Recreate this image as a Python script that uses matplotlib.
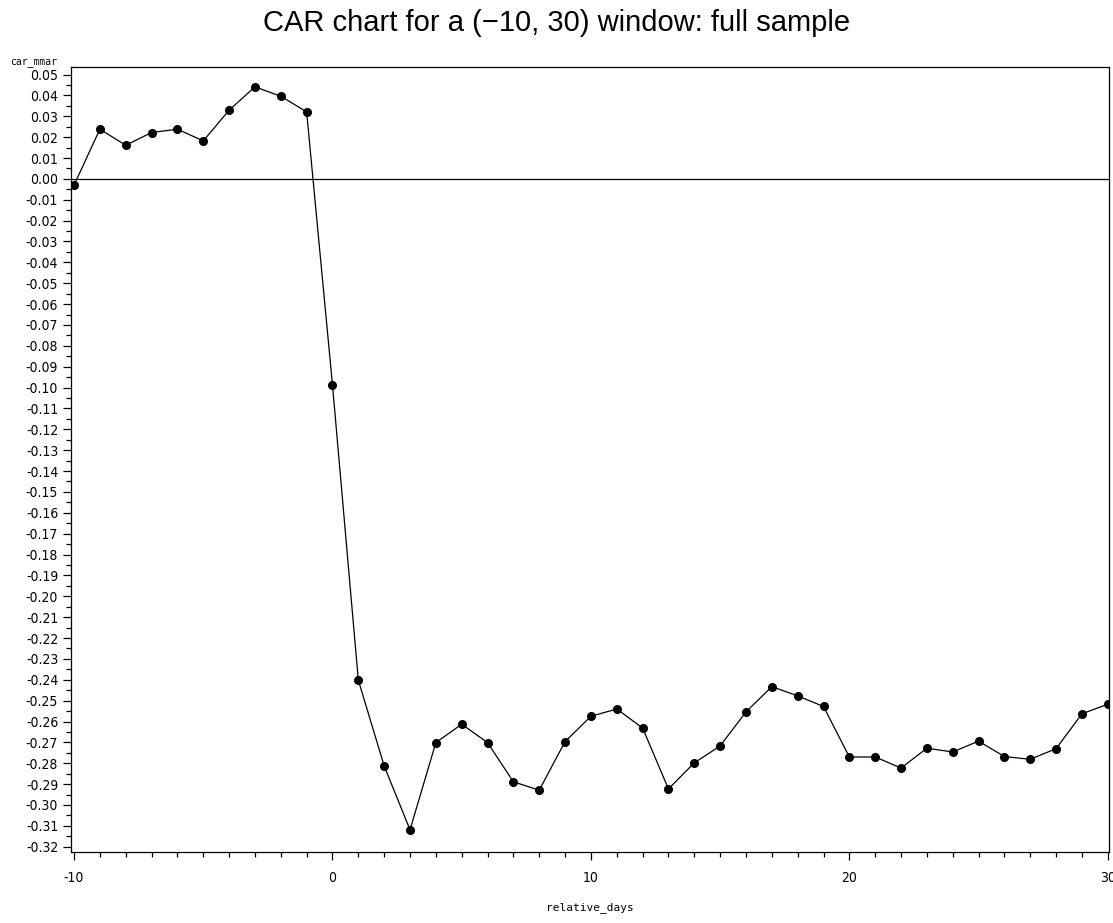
import matplotlib
matplotlib.use("Agg")
import matplotlib.pyplot as plt
import matplotlib.ticker as mtick

# CAR by relative day
relative_days = list(range(-10, 31))
car_mmar = [
    -0.0030, 0.0238, 0.0161, 0.0222, 0.0238, 0.0182, 0.0329, 0.0441, 0.0396, 0.0321,
    -0.0987, -0.2402, -0.2813, -0.3119, -0.2701, -0.2613, -0.2701, -0.2889, -0.2929, -0.2696,
    -0.2575, -0.2540, -0.2631, -0.2923, -0.2798, -0.2717, -0.2554, -0.2433, -0.2477, -0.2528,
    -0.2770, -0.2770, -0.2823, -0.2728, -0.2746, -0.2694, -0.2768, -0.2781, -0.2730, -0.2563,
    -0.2517,
]

plt.rcParams["axes.unicode_minus"] = False

fig = plt.figure(figsize=(11.13, 9.23), dpi=100)
ax = fig.add_axes([0.0635, 0.0772, 0.933, 0.8502])

ax.plot(relative_days, car_mmar, color="black", linewidth=0.9,
        marker="o", markersize=5.5, markerfacecolor="black", markeredgecolor="black")
ax.axhline(0, color="black", linewidth=0.9)

ax.set_xlim(-10.13, 30.05)
ax.set_ylim(-0.3224, 0.0536)

ax.xaxis.set_major_locator(mtick.MultipleLocator(10))
ax.xaxis.set_minor_locator(mtick.MultipleLocator(1))
ax.yaxis.set_major_locator(mtick.MultipleLocator(0.01))
ax.yaxis.set_minor_locator(mtick.MultipleLocator(0.005))
ax.yaxis.set_major_formatter(mtick.FuncFormatter(lambda v, p: f"{v:.2f}".replace("-0.00", "0.00")))

ax.tick_params(which="major", direction="out", length=6, width=0.9, labelsize=10, pad=3)
ax.tick_params(which="minor", direction="out", length=3.5, width=0.9)
ax.tick_params(axis="x", which="major", pad=8)
for lbl in ax.get_xticklabels() + ax.get_yticklabels():
    lbl.set_family(["DejaVu Sans"])
    lbl.set_stretch("condensed")

for s in ax.spines.values():
    s.set_linewidth(0.9)
    s.set_color("black")

ax.set_xlabel("relative_days", family=["DejaVu Sans Mono"], fontsize=8, labelpad=12)
fig.text(0.009, 0.927, "car_mmar", family=["DejaVu Sans Mono"], fontsize=7, va="bottom")

fig.suptitle("CAR chart for a (\u221210, 30) window: full sample", fontsize=21, y=0.99,
             family=["Liberation Sans", "DejaVu Sans"])

fig.savefig("out.png", dpi=100)
